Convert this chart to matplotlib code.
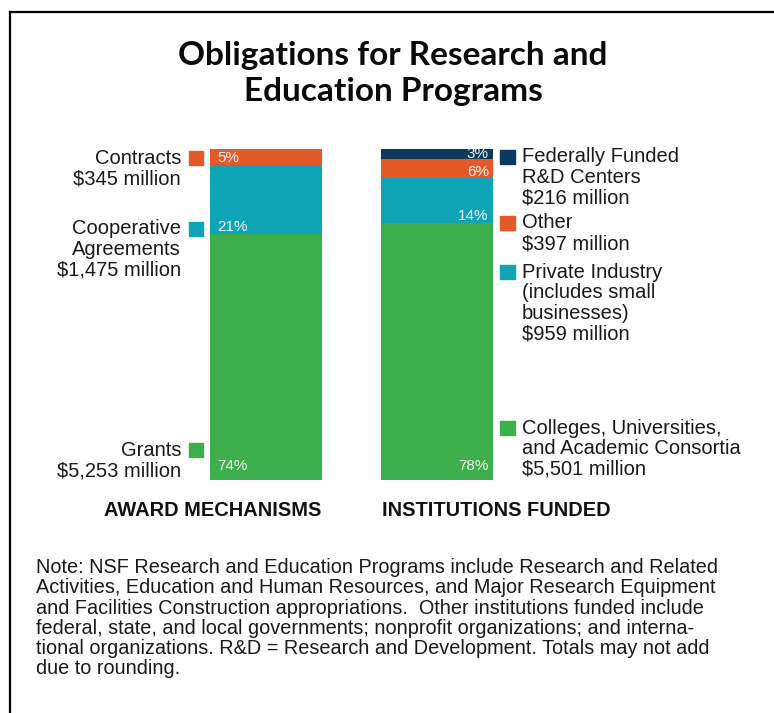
import matplotlib
matplotlib.use("Agg")
import matplotlib.pyplot as plt
from matplotlib.patches import Rectangle
from matplotlib.lines import Line2D

# ---- data ----
groups = ["AWARD MECHANISMS", "INSTITUTIONS FUNDED"]
award_labels = ["Grants", "Cooperative Agreements", "Contracts"]
award_values = [5253, 1475, 345]          # $ millions, bottom -> top
inst_labels = ["Colleges, Universities, and Academic Consortia",
               "Private Industry (includes small businesses)",
               "Other", "Federally Funded R&D Centers"]
inst_values = [5501, 959, 397, 216]       # $ millions, bottom -> top

award_colors = ["#3cae4b", "#0ea4b6", "#e35a28"]
inst_colors = ["#3cae4b", "#0ea4b6", "#e35a28", "#0c3a5e"]

title_lines = ["Obligations for Research and", "Education Programs"]
note_lines = [
    "Note: NSF Research and Education Programs include Research and Related",
    "Activities, Education and Human Resources, and Major Research Equipment",
    "and Facilities Construction appropriations.  Other institutions funded include",
    "federal, state, and local governments; nonprofit organizations; and interna-",
    "tional organizations. R&D = Research and Development. Totals may not add",
    "due to rounding.",
]

W, H = 774, 713
fig = plt.figure(figsize=(W / 100, H / 100), dpi=100)
fig.patch.set_facecolor("white")

def fx(x):
    return x / W

def fy(y):
    return 1 - y / H

# frame (left and top sides visible)
fig.add_artist(Line2D([fx(10), fx(10)], [fy(12), fy(713)], color="black", lw=1.6))
fig.add_artist(Line2D([fx(10), fx(774)], [fy(12), fy(12)], color="black", lw=1.6))

# title
for k, s in enumerate(title_lines):
    fig.text(fx(393), fy(65 + k * 36.5), s, ha="center", va="baseline", fontsize=24,
             fontweight="bold", family=["Lato", "DejaVu Sans"], color="#0a0a0a")

# ---- bars ----
bar_px = 480 - 149
ax = fig.add_axes([fx(210), fy(480), fx(493) - fx(210), bar_px / H])
total_a = sum(award_values)
total_i = sum(inst_values)
bw = 112 / 171.5
ax.set_xlim(-56 / 171.5, 1 + 56 / 171.5)
ax.set_ylim(0, max(total_a, total_i))
ax.axis("off")

txt_kw = dict(fontsize=11, color="#f2f2f2", family=["Liberation Sans", "DejaVu Sans"])

def label_offset(i, v, total, base):
    if i == 0:
        return 10
    half_pt = v / total * bar_px / 2 * 0.72
    return min(base, half_pt)

bottom = 0
for i, (v, c) in enumerate(zip(award_values, award_colors)):
    ax.bar(0, v, bw, bottom=bottom, color=c, edgecolor="none")
    pct = round(v / total_a * 100)
    ax.annotate(f"{pct}%", (0 - bw / 2, bottom),
                xytext=(5, label_offset(i, v, total_a, 5.2)),
                textcoords="offset points", ha="left", va="center", **txt_kw)
    bottom += v
bottom = 0
for i, (v, c) in enumerate(zip(inst_values, inst_colors)):
    ax.bar(1, v, bw, bottom=bottom, color=c, edgecolor="none")
    pct = round(v / total_i * 100)
    ax.annotate(f"{pct}%", (1 + bw / 2, bottom),
                xytext=(-3, label_offset(i, v, total_i, 4.4)),
                textcoords="offset points", ha="right", va="center", **txt_kw)
    bottom += v

# ---- side labels ----
lab_kw = dict(fontsize=14.5, color="#1a1a1a", family=["Liberation Sans", "DejaVu Sans"])
left_items = [
    (["Contracts", "$345 million"], 158, award_colors[2]),
    (["Cooperative", "Agreements", "$1,475 million"], 229, award_colors[1]),
    (["Grants", "$5,253 million"], 450, award_colors[0]),
]
for lines, y0, c in left_items:
    for k, s in enumerate(lines):
        fig.text(fx(181), fy(y0 + k * 20.6), s, ha="right", va="center", **lab_kw)
    fig.add_artist(Rectangle((fx(189), fy(y0 + 7)), 14 / W, 14 / H,
                             color=c, transform=fig.transFigure))

right_items = [
    (["Federally Funded", "R&D Centers", "$216 million"], 157, inst_colors[3]),
    (["Other", "$397 million"], 223, inst_colors[2]),
    (["Private Industry", "(includes small", "businesses)", "$959 million"], 272, inst_colors[1]),
    (["Colleges, Universities,", "and Academic Consortia", "$5,501 million"], 428, inst_colors[0]),
]
for lines, y0, c in right_items:
    for k, s in enumerate(lines):
        fig.text(fx(522), fy(y0 + k * 20.6), s, ha="left", va="center", **lab_kw)
    fig.add_artist(Rectangle((fx(500), fy(y0 + 7)), 15 / W, 14 / H,
                             color=c, transform=fig.transFigure))

# group titles
grp_kw = dict(fontsize=14.4, fontweight="bold", color="#111111",
              family=["Liberation Sans", "DejaVu Sans"])
fig.text(fx(321), fy(510), groups[0], ha="right", va="center", **grp_kw)
fig.text(fx(382), fy(510), groups[1], ha="left", va="center", **grp_kw)

# note
for k, s in enumerate(note_lines):
    fig.text(fx(36), fy(573 + k * 20.3), s, ha="left", va="baseline", fontsize=14.3,
             color="#1a1a1a", family=["Liberation Sans", "DejaVu Sans"])

fig.savefig("out.png", dpi=100, facecolor="white")
